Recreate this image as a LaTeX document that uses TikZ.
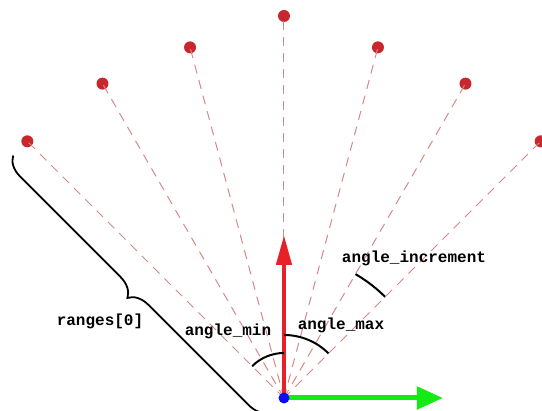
\documentclass[tikz,border=0pt]{standalone}
\usepackage{fontspec}
\setmonofont{Liberation Mono}
\usetikzlibrary{arrows.meta,decorations.pathreplacing,calc}
\definecolor{dotred}{RGB}{200,40,45}
\definecolor{rayred}{RGB}{215,135,135}
\definecolor{axred}{RGB}{232,32,40}
\definecolor{axgreen}{RGB}{20,235,20}
\definecolor{axblue}{RGB}{10,10,255}
\begin{document}
\begin{tikzpicture}[x=1pt,y=1pt,
  dot/.style={circle,fill=dotred,inner sep=0pt,minimum size=12pt},
  ray/.style={rayred,line width=1pt,dash pattern=on 9pt off 7pt},
  anglearc/.style={black,line width=2pt},
  lbl/.style={font=\ttfamily\bfseries\fontsize{16}{19}\selectfont,inner sep=0pt}]
\useasboundingbox (-284,-13) rectangle (258,398);
\clip (-284,-13) rectangle (258,398);
\coordinate (o) at (0,0);
\foreach \a/\n in {135/l3,120/l2,105/l1,75/r1,60/r2,45/r3}
  \node[dot] (\n) at (\a:363) {};
\node[dot] (top) at (90:382) {};
\foreach \n in {l3,l2,l1,top,r1,r2,r3}
  \draw[ray] (o) -- (\n.center);
\coordinate (ytip) at (0,163);
\coordinate (xtip) at (159,0);
\draw[axred,line width=4.5pt,-{Triangle[length=30pt,width=15pt]}] (o) -- (ytip);
\draw[axgreen,line width=5pt,-{Triangle[length=26pt,width=22pt]}] (o) -- (xtip);
\node[circle,fill=axblue,inner sep=0pt,minimum size=11pt] (origin) at (o) {};
% angle arcs
\draw[anglearc] (90:45) arc[start angle=90,end angle=135,radius=45];
\draw[anglearc] (45:63) arc[start angle=45,end angle=90,radius=63];
\draw[anglearc] (45:143) arc[start angle=45,end angle=60,radius=143];
% brace
\draw[black,line width=1.8pt,decorate,decoration={brace,amplitude=20pt}]
  ($(o)+(225:20)$) -- ($(l3.center)+(225:20)$);
% labels
\node[lbl] (linc) at (130,140) {angle\_increment};
\node[lbl] (lmax) at (57,73) {angle\_max};
\node[lbl] (lmin) at (-56,67) {angle\_min};
\node[lbl] (lrng) at (-184,77) {ranges[0]};
\end{tikzpicture}
\end{document}
